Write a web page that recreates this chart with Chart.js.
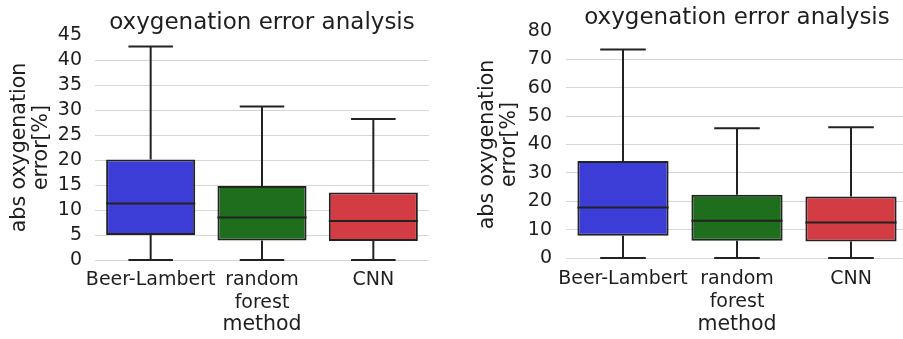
<!DOCTYPE html>
<html>
<head>
<meta charset="utf-8">
<script src="https://cdn.jsdelivr.net/npm/chart.js@4"></script>
<style>
  body { margin: 0; width: 903px; height: 339px; overflow: hidden; background: #fff; position: relative; }
  #box1 { position: absolute; left: 0; top: 0; }
  #box2 { position: absolute; left: 450px; top: 0; }
</style>
</head>
<body>
<div id="box1"><canvas id="myChart1" width="450" height="339"></canvas></div>
<div id="box2"><canvas id="myChart2" width="460" height="339"></canvas></div>
<script>
var categories = ['Beer-Lambert', ['random', 'forest'], 'CNN'];
var boxColors = ['rgb(60, 60, 214)', 'rgb(30, 110, 30)', 'rgb(212, 60, 68)'];

// left panel
var leftMin = [0, 0, 0];
var leftQ1 = [5.0, 3.9, 3.8];
var leftMedian = [11.3, 8.5, 7.8];
var leftQ3 = [20.1, 14.8, 13.5];
var leftMax = [42.7, 30.7, 28.2];
var leftTicks = {max: 45, step: 5};

// right panel
var rightMin = [0, 0, 0];
var rightQ1 = [7.8, 6.1, 5.8];
var rightMedian = [17.8, 13.1, 12.5];
var rightQ3 = [34.2, 22.3, 21.7];
var rightMax = [73.5, 45.7, 46.1];
var rightTicks = {max: 80, step: 10};

var font = 'DejaVu Sans';
var textColor = '#1e1e1e';
var lineColor = '#222';

// whiskers, caps and medians drawn on top of the floating bars
var whiskerPlugin = {
  id: 'whiskers',
  afterDatasetsDraw: function(chart, args, opts) {
    var ctx = chart.ctx;
    var yScale = chart.scales.y;
    var meta = chart.getDatasetMeta(0);
    ctx.save();
    ctx.strokeStyle = lineColor;
    ctx.lineWidth = 2;
    for (var i = 0; i < opts.median.length; i++) {
      var bar = meta.data[i];
      var cx = bar.x;
      var half = bar.width / 2;
      var cap = half / 2;
      var yMin = yScale.getPixelForValue(opts.min[i]);
      var yQ1 = yScale.getPixelForValue(opts.q1[i]);
      var yMed = yScale.getPixelForValue(opts.median[i]);
      var yQ3 = yScale.getPixelForValue(opts.q3[i]);
      var yMax = yScale.getPixelForValue(opts.max[i]);

      ctx.beginPath();
      ctx.moveTo(cx, yQ3);
      ctx.lineTo(cx, yMax);
      ctx.moveTo(cx - cap, yMax);
      ctx.lineTo(cx + cap, yMax);
      ctx.moveTo(cx, yQ1);
      ctx.lineTo(cx, yMin);
      ctx.moveTo(cx - cap, yMin);
      ctx.lineTo(cx + cap, yMin);
      ctx.moveTo(cx - half, yMed);
      ctx.lineTo(cx + half, yMed);
      ctx.stroke();
    }
    ctx.restore();
  }
};

function makeChart(id, stats, ticks, layout) {
  var boxes = [];
  for (var i = 0; i < stats.q1.length; i++) {
    boxes.push([stats.q1[i], stats.q3[i]]);
  }

  var ctx = document.getElementById(id).getContext('2d');
  return new Chart(ctx, {
    type: 'bar',
    data: {
      labels: categories,
      datasets: [{
        data: boxes,
        backgroundColor: boxColors,
        borderColor: lineColor,
        borderWidth: 2,
        borderSkipped: false,
        barPercentage: 0.8,
        categoryPercentage: 1
      }]
    },
    options: {
      responsive: false,
      animation: false,
      layout: {padding: {right: layout.padRight}},
      plugins: {
        legend: {display: false},
        tooltip: {enabled: false},
        title: {
          display: true,
          text: 'oxygenation error analysis',
          fullSize: false,
          color: textColor,
          font: {family: font, size: 23, weight: 'normal', lineHeight: 1},
          padding: {top: layout.titleTop, bottom: layout.titleBottom}
        },
        whiskers: stats
      },
      scales: {
        x: {
          grid: {display: false, drawTicks: false},
          border: {display: false},
          ticks: {color: textColor, font: {family: font, size: 19, lineHeight: 1.2}, padding: layout.xPad, maxRotation: 0, autoSkip: false},
          title: {
            display: true,
            text: 'method',
            color: textColor,
            font: {family: font, size: 20.5},
            padding: {top: 0, bottom: 2}
          },
          afterFit: function(scale) { scale.height = layout.xHeight; }
        },
        y: {
          min: 0,
          max: ticks.max,
          grid: {
            drawTicks: false,
            color: function(c) { return c.tick.value === ticks.max ? 'rgba(0,0,0,0)' : '#d6d6d6'; }
          },
          border: {display: false},
          ticks: {stepSize: ticks.step, color: textColor, font: {family: font, size: 19}, padding: layout.yPad, autoSkip: false},
          title: {
            display: true,
            text: ['abs oxygenation', 'error[%]'],
            color: textColor,
            font: {family: font, size: 20.5, lineHeight: 1.05},
            padding: {top: layout.yTitleTop, bottom: 0}
          },
          afterFit: function(scale) { scale.width = layout.yWidth; }
        }
      }
    },
    plugins: [whiskerPlugin]
  });
}

function init() {
  makeChart('myChart1',
    {min: leftMin, q1: leftQ1, median: leftMedian, q3: leftQ3, max: leftMax},
    leftTicks,
    {padRight: 21, titleTop: 12, titleBottom: 0, xHeight: 79, xPad: 9, yWidth: 95, yPad: 13, yTitleTop: 9});
  makeChart('myChart2',
    {min: rightMin, q1: rightQ1, median: rightMedian, q3: rightQ3, max: rightMax},
    rightTicks,
    {padRight: 2, titleTop: 7, titleBottom: 1, xHeight: 81, xPad: 10, yWidth: 116, yPad: 14, yTitleTop: 27});
}

init();
</script>
</body>
</html>
